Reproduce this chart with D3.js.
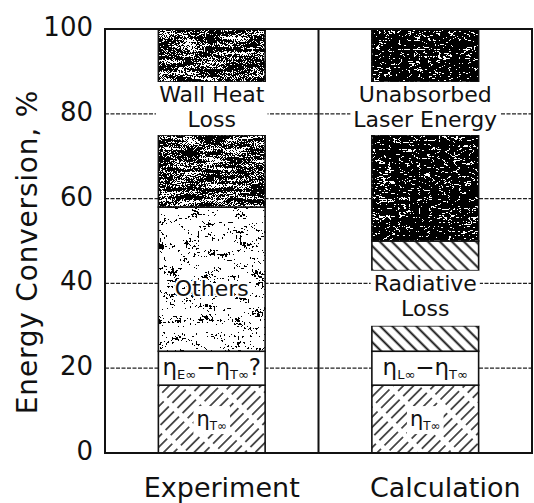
<!DOCTYPE html>
<html>
<head>
<meta charset="utf-8">
<script src="https://d3js.org/d3.v7.min.js"></script>
<style>
  body { margin: 0; background: #fff; }
  svg text { font-family: "DejaVu Sans", sans-serif; fill: #111; }
</style>
</head>
<body>
<svg id="chart" width="534" height="503"></svg>
<script>
// ---- data ----
var categories = ["Experiment", "Calculation"];
var yTicks = [0, 20, 40, 60, 80, 100];

// stacked segment heights (%), bottom to top
var experimentNames  = ["etaT", "etaDiffExp", "others", "wall"];
var experimentValues = [16, 8, 34, 42];
var calculationNames  = ["etaT", "etaDiffCalc", "radiative", "unabsorbed"];
var calculationValues = [16, 8, 26, 50];

// value ranges left open for the text labels
var experimentGaps  = [[75, 87.5]];
var calculationGaps = [[30, 43], [75, 87.5]];
var experimentGapLabels  = [["Wall Heat", "Loss"]];
var calculationGapLabels = [["Radiative", "Loss"], ["Unabsorbed", "Laser Energy"]];

// ---- layout ----
var svg = d3.select("#chart");
var plotL = 105, plotR = 532, plotT = 29, plotB = 453;

var y = d3.scaleLinear().domain([0, 100]).range([plotB, plotT]);
var x = d3.scaleBand().domain(categories).range([plotL, plotR])
    .paddingInner(0.5).paddingOuter(0.25);
var step = x.step();

var defs = svg.append("defs");

function hatch(id, angle, gap, width, dash) {
    var p = defs.append("pattern")
        .attr("id", id)
        .attr("patternUnits", "userSpaceOnUse")
        .attr("width", gap).attr("height", 24)
        .attr("patternTransform", "rotate(" + angle + ")");
    p.append("line")
        .attr("x1", gap / 2).attr("y1", 0).attr("x2", gap / 2).attr("y2", 24)
        .attr("stroke", "#111").attr("stroke-width", width)
        .attr("stroke-dasharray", dash || null);
}
hatch("hatchF", 45, 7.2, 1.4, "19 5");
hatch("hatchB", -45, 8.5, 1.9, null);

// scanned-print speckle textures: two noise layers mixed, then thresholded
function speckle(id, n1, n2, w1, w2, k, b) {
    var f = defs.append("filter")
        .attr("id", id)
        .attr("filterUnits", "objectBoundingBox")
        .attr("color-interpolation-filters", "sRGB")
        .attr("x", 0).attr("y", 0).attr("width", 1).attr("height", 1);
    [n1, n2].forEach(function(n, i) {
        f.append("feTurbulence")
            .attr("type", n.type)
            .attr("baseFrequency", n.freq)
            .attr("numOctaves", n.oct)
            .attr("seed", n.seed)
            .attr("result", "t" + i);
        f.append("feColorMatrix")
            .attr("in", "t" + i)
            .attr("type", "matrix")
            .attr("values", "1 0 0 0 0  1 0 0 0 0  1 0 0 0 0  0 0 0 0 1")
            .attr("result", "g" + i);
    });
    f.append("feComposite")
        .attr("in", "g0").attr("in2", "g1")
        .attr("operator", "arithmetic")
        .attr("k1", 0).attr("k2", w1).attr("k3", w2).attr("k4", 0);
    f.append("feColorMatrix")
        .attr("type", "matrix")
        .attr("values", "0 0 0 0 0  0 0 0 0 0  0 0 0 0 0  " + k + " 0 0 0 " + b);
    f.append("feComponentTransfer")
        .append("feFuncA").attr("type", "discrete").attr("tableValues", "0 1");
}
speckle("fWall",
    { type: "fractalNoise", freq: "0.04 0.25", oct: 2, seed: 3 },
    { type: "fractalNoise", freq: "1.1 1.1", oct: 1, seed: 11 },
    0.4, 0.6, 4, -1.36);
speckle("fOthers",
    { type: "fractalNoise", freq: "0.06 0.12", oct: 2, seed: 8 },
    { type: "fractalNoise", freq: "0.5 0.5", oct: 1, seed: 21 },
    0.45, 0.55, 6, -3.1);
speckle("fUnabs",
    { type: "turbulence", freq: "0.1 0.22", oct: 2, seed: 5 },
    { type: "fractalNoise", freq: "0.8 0.8", oct: 1, seed: 13 },
    0.8, 0.2, 8, -0.9);

var styles = {
    etaT:        { fill: "url(#hatchF)" },
    etaDiffExp:  { fill: "#fff" },
    etaDiffCalc: { fill: "#fff" },
    others:      { filter: "url(#fOthers)" },
    wall:        { filter: "url(#fWall)" },
    radiative:   { fill: "url(#hatchB)" },
    unabsorbed:  { filter: "url(#fUnabs)" }
};

// gridlines
svg.append("g").selectAll("line")
    .data(yTicks.filter(function(d) { return d > 0 && d < 100; }))
    .enter().append("line")
    .attr("x1", plotL).attr("x2", plotR)
    .attr("y1", function(d) { return y(d); })
    .attr("y2", function(d) { return y(d); })
    .attr("stroke", "#222").attr("stroke-width", 1.3)
    .attr("stroke-dasharray", "4 1.5");

function stack(names, values) {
    var acc = 0;
    return names.map(function(n, i) {
        var s = { name: n, lo: acc, hi: acc + values[i] };
        acc += values[i];
        return s;
    });
}

function pieces(seg, gaps) {
    var out = [[seg.lo, seg.hi]];
    gaps.forEach(function(g) {
        var next = [];
        out.forEach(function(p) {
            if (g[1] <= p[0] || g[0] >= p[1]) { next.push(p); return; }
            if (g[0] > p[0]) next.push([p[0], g[0]]);
            if (g[1] < p[1]) next.push([g[1], p[1]]);
        });
        out = next;
    });
    return out;
}

var bars = [
    { cat: "Experiment", segs: stack(experimentNames, experimentValues),
      gaps: experimentGaps, gapLabels: experimentGapLabels },
    { cat: "Calculation", segs: stack(calculationNames, calculationValues),
      gaps: calculationGaps, gapLabels: calculationGapLabels }
];

var barG = svg.append("g");
bars.forEach(function(bar) {
    var x0 = x(bar.cat), bw = x.bandwidth();
    bar.segs.forEach(function(seg) {
        pieces(seg, bar.gaps).forEach(function(p) {
            var st = styles[seg.name];
            var ry = y(p[1]), rh = y(p[0]) - y(p[1]);
            barG.append("rect").attr("x", x0).attr("y", ry)
                .attr("width", bw).attr("height", rh).attr("fill", "#fff");
            barG.append("rect").attr("x", x0).attr("y", ry)
                .attr("width", bw).attr("height", rh)
                .attr("fill", st.fill || "#111")
                .attr("filter", st.filter || null);
            barG.append("rect").attr("x", x0).attr("y", ry)
                .attr("width", bw).attr("height", rh)
                .attr("fill", "none").attr("stroke", "#111").attr("stroke-width", 1.6);
        });
    });

    // labels sitting in the open gaps
    bar.gaps.forEach(function(g, i) {
        var cx = x0 + bw / 2, cy = (y(g[0]) + y(g[1])) / 2;
        var lg = barG.append("g");
        var bgRect = lg.append("rect").attr("fill", "#fff");
        var t = lg.append("text").attr("text-anchor", "middle")
            .style("font-size", "22px");
        bar.gapLabels[i].forEach(function(line, j) {
            t.append("tspan").attr("x", cx).attr("y", cy - 7 + j * 25).text(line);
        });
        var bb = t.node().getBBox();
        var w = Math.max(bw, bb.width + 6);
        bgRect.attr("x", cx - w / 2).attr("width", w)
            .attr("y", y(g[1])).attr("height", y(g[0]) - y(g[1]));
    });
});

// frame and panel divider
var frame = svg.append("g").attr("stroke", "#111").attr("stroke-width", 2).attr("fill", "none");
frame.append("rect").attr("x", plotL).attr("y", plotT)
    .attr("width", plotR - plotL).attr("height", plotB - plotT);
frame.append("line").attr("x1", plotL + step).attr("x2", plotL + step)
    .attr("y1", plotT).attr("y2", plotB);

// labels inside the segments
function etaLabel(cat, v, parts, size) {
    var cx = x(cat) + x.bandwidth() / 2;
    var g = svg.append("g");
    var bg = g.append("rect").attr("fill", "#fff");
    var t = g.append("text").attr("text-anchor", "middle")
        .attr("x", cx).attr("y", y(v) + 7)
        .style("font-size", size + "px");
    parts.forEach(function(p) {
        var ts = t.append("tspan").text(p[0]);
        if (p[1]) ts.style("font-size", Math.round(size * 0.55) + "px").attr("dy", 4);
        else ts.attr("dy", p[2] || 0);
    });
    return { bg: bg, t: t };
}

var l1 = etaLabel("Experiment", 8, [["η", 0, 0], ["T∞", 1]], 21);
var l2 = etaLabel("Calculation", 8, [["η", 0, 0], ["T∞", 1]], 21);
[l1, l2].forEach(function(l) {
    var bb = l.t.node().getBBox();
    l.bg.attr("x", bb.x - 3).attr("y", bb.y - 1).attr("width", bb.width + 6).attr("height", bb.height + 2);
});
etaLabel("Experiment", 20, [["η", 0, 0], ["E∞", 1], ["−η", 0, -4], ["T∞", 1], ["?", 0, -4]], 23);
etaLabel("Calculation", 20, [["η", 0, 0], ["L∞", 1], ["−η", 0, -4], ["T∞", 1]], 23);

svg.append("text")
    .attr("x", x("Experiment") + x.bandwidth() / 2).attr("y", y(39) + 8)
    .attr("text-anchor", "middle")
    .style("font-size", "22px")
    .attr("stroke", "#fff").attr("stroke-width", 4).attr("paint-order", "stroke")
    .text("Others");

// y axis tick labels
svg.append("g").selectAll("text")
    .data(yTicks).enter().append("text")
    .attr("x", 93).attr("y", function(d) { return y(d) + 7; })
    .attr("text-anchor", "end")
    .style("font-size", "26px")
    .text(function(d) { return d; });

svg.append("text")
    .attr("transform", "translate(37,252) rotate(-90)")
    .attr("text-anchor", "middle")
    .style("font-size", "28px").style("letter-spacing", "0.8px")
    .text("Energy Conversion, %");

// category labels
svg.append("g").selectAll("text")
    .data(categories).enter().append("text")
    .attr("x", function(d, i) { return x(d) + x.bandwidth() / 2 + (i ? 20 : 10); })
    .attr("y", 497)
    .attr("text-anchor", "middle")
    .style("font-size", "27px")
    .text(function(d) { return d; });
</script>
</body>
</html>
